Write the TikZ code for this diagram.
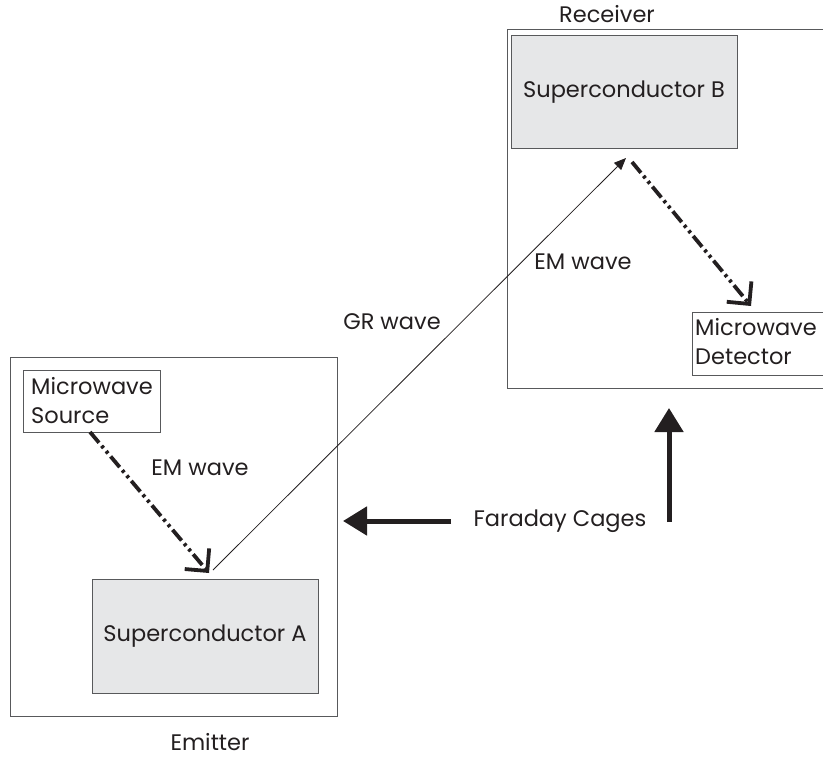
\documentclass[tikz,border=0pt]{standalone}
\usepackage{fontspec}
\setmainfont{Poppins}
\usetikzlibrary{arrows.meta,calc}
\definecolor{ink}{HTML}{231F20}
\definecolor{frame}{HTML}{58595B}
\definecolor{scfill}{HTML}{E6E7E8}
\tikzset{
  box/.style={draw=frame, line width=1pt, anchor=north west, inner sep=0pt, outer sep=0pt},
  scbox/.style={box, fill=scfill},
  lbl/.style={text=ink, font=\fontsize{22.5}{29}\selectfont, inner sep=0pt},
  emwave/.style={draw=ink, line width=3.8pt, dash pattern=on 14pt off 4pt on 3pt off 4pt on 3pt off 4pt,
     -{Straight Barb[length=16pt,width=32pt,line width=3.8pt]}},
  grwave/.style={draw=ink, line width=0.8pt, -{Triangle[length=12pt,width=10pt]}},
  cage/.style={draw=ink, line width=5pt, -{Triangle[length=24pt,width=28pt]}}
}
\begin{document}
\begin{tikzpicture}[x=1pt,y=-1pt]
\useasboundingbox (0,0) rectangle (823,757);
% containers
\node[box, minimum width=327pt, minimum height=359pt] (emitter) at (10,357) {};
\node[box, minimum width=320pt, minimum height=358pt] (receiver) at (507,30) {};
\node[lbl] (emlabel) at (210,742) {Emitter};
\node[lbl] (rclabel) at (607,14) {Receiver};
% inner boxes
\node[box, minimum width=137pt, minimum height=62pt] (src) at (23,370) {};
\node[lbl, anchor=north west, align=left] (srctext) at (31,377) {Microwave\\Source};
\node[scbox, minimum width=226pt, minimum height=114pt, lbl] (A) at (92,579) {Superconductor A};
\node[scbox, minimum width=226pt, minimum height=113pt, lbl] (B) at (511,36) {Superconductor B};
\node[box, minimum width=135pt, minimum height=63pt] (det) at (692,312) {};
\node[lbl, anchor=north west, align=left] (dettext) at (695,318) {Microwave\\Detector};
% labels
\node[lbl] (em1) at (200,468) {EM wave};
\node[lbl] (em2) at (583,262) {EM wave};
\node[lbl] (gr) at (392,322) {GR wave};
\node[lbl] (fc) at (560,521) {Faraday Cages};
% connectors
\draw[emwave] ([xshift=67pt]src.south west) -- ([xshift=117pt,yshift=6pt]A.north west);
\draw[grwave] ([xshift=121pt,yshift=9pt]A.north west) -- ([xshift=115pt,yshift=-9pt]B.south west);
\draw[emwave] ([xshift=121pt,yshift=-13pt]B.south west) -- ([xshift=59pt,yshift=6pt]det.north west);
\coordinate (cageA) at ([xshift=-109pt]fc.center);
\coordinate (cageB) at ([xshift=109pt,yshift=-1pt]fc.center);
\draw[cage] (cageA) -- ([xshift=6pt]emitter.east |- cageA);
\draw[cage] (cageB) -- ($(cageB |- receiver.south)+(0,20)$);
\end{tikzpicture}
\end{document}
